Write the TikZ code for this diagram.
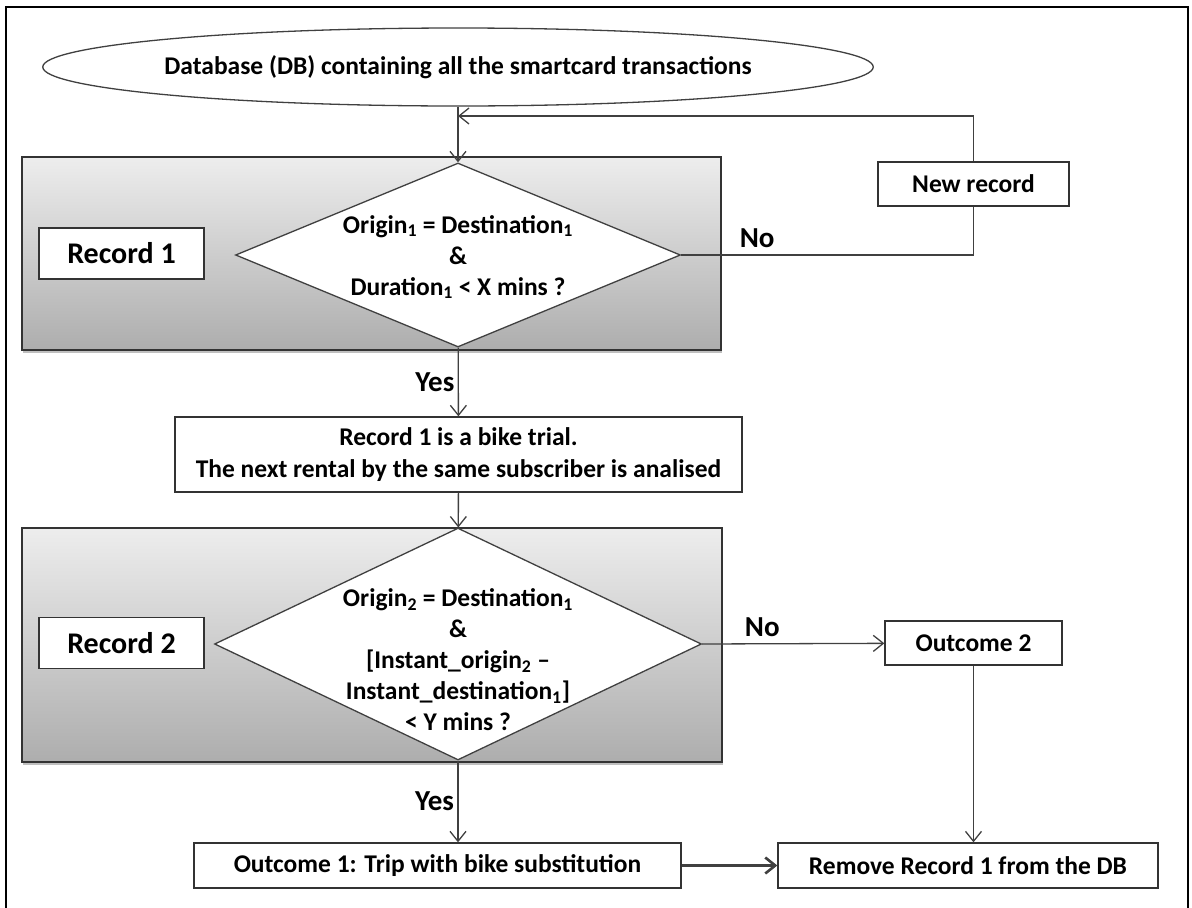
\documentclass[tikz,border=0pt]{standalone}
\usepackage{fontspec}
\setmainfont{Carlito}
\usepackage{tikz}
\usetikzlibrary{shapes.geometric, arrows.meta, shadows}
\tikzstyle{source}   = [ellipse, draw=black!75, line width=1.3pt, fill=white, minimum width=690pt, minimum height=78pt, inner sep=0pt, text centered]
\tikzstyle{decision} = [diamond, draw=black!75, line width=1.3pt, fill=white, inner sep=0pt]
\tikzstyle{panel}    = [rectangle, draw=black!80, line width=1.3pt, top color=black!7, bottom color=black!32, drop shadow={shadow xshift=1pt, shadow yshift=-2.5pt, opacity=0.5}]
\tikzstyle{process}  = [rectangle, draw=black!80, line width=1.3pt, fill=white, text centered, inner sep=0pt]
\tikzstyle{tag}      = [process, font=\bfseries\fontsize{30}{36}\selectfont, minimum width=165pt, minimum height=51pt]
\tikzstyle{branch}   = [font=\bfseries\fontsize{29}{34}\selectfont]
\tikzstyle{line}     = [draw=black!75, line width=1.3pt]
\tikzstyle{arrow}    = [line, -{Straight Barb[length=10pt, width=16pt]}]
\tikzset{every node/.style={align=center, font=\bfseries\fontsize{25.5}{31}\selectfont}}

\begin{document}
\begin{tikzpicture}[x=1pt, y=-1pt]
    \useasboundingbox (0,0) rectangle (1192,908);
    \draw[line width=2pt] (6,915) -- (6,7) -- (1188,7) -- (1188,915);

    % shaded record panels
    \node[panel, minimum width=699pt, minimum height=193pt] (panel1) at (371.5,253.5) {};
    \node[panel, minimum width=700pt, minimum height=234pt] (panel2) at (372,645) {};

    \node[source]   (db)     at (458,67)  {Database (DB) containing all the smartcard transactions};
    \node[tag]      (rec1)   at (121.5,253.5) {Record 1};
    \node[decision, minimum width=445pt, minimum height=184pt] (dec1) at (458,255) {};
    \node           (dec1txt) at (458,257) {Origin\textsubscript{1} = Destination\textsubscript{1}\\\&\\Duration\textsubscript{1} < X mins ?};
    \node[process, minimum width=191pt, minimum height=44pt] (newrec) at (973.5,184) {New record};
    \node[process, minimum width=567pt, minimum height=75pt, font=\bfseries\fontsize{25.5}{32}\selectfont] (trial) at (458.5,454.5) {Record 1 is a bike trial.\\The next rental by the same subscriber is analised};
    \node[tag]      (rec2)   at (121.5,643) {Record 2};
    \node[decision, minimum width=487pt, minimum height=232pt] (dec2) at (458,644) {};
    \node           (dec2txt) at (458,660) {Origin\textsubscript{2} = Destination\textsubscript{1}\\\&\\{}[Instant\_origin\textsubscript{2} --\\Instant\_destination\textsubscript{1}]\\< Y mins ?};
    \node[process, minimum width=177pt, minimum height=44pt] (out2)   at (973.5,643) {Outcome 2};
    \node[process, minimum width=487pt, minimum height=45pt] (out1)   at (437.5,865.5) {Outcome 1: Trip with bike substitution};
    \node[process, minimum width=380pt, minimum height=45pt] (remove) at (968,865.5) {Remove Record 1 from the DB};
    \coordinate (join) at (458,116);

    \draw[arrow] (db) -- (dec1);
    \draw[line]  (dec1.east) -- node[branch, above, pos=0.26, yshift=3pt]{No} (dec1.east -| newrec.south) -- (newrec.south);
    \draw[arrow] (newrec.north) |- (join);
    \draw[arrow] (dec1) -- node[branch, left]{Yes} (trial);
    \draw[arrow] (trial) -- (dec2);
    \draw[arrow] (dec2.east) -- node[branch, above, pos=0.33, yshift=3pt]{No} (out2);
    \draw[arrow] (dec2.south) -- node[branch, left]{Yes} (dec2.south |- out1.north);
    \draw[arrow] (out2.south) -- (out2.south |- remove.north);
    \draw[arrow, line width=2.6pt] (out1) -- (remove);
\end{tikzpicture}
\end{document}
